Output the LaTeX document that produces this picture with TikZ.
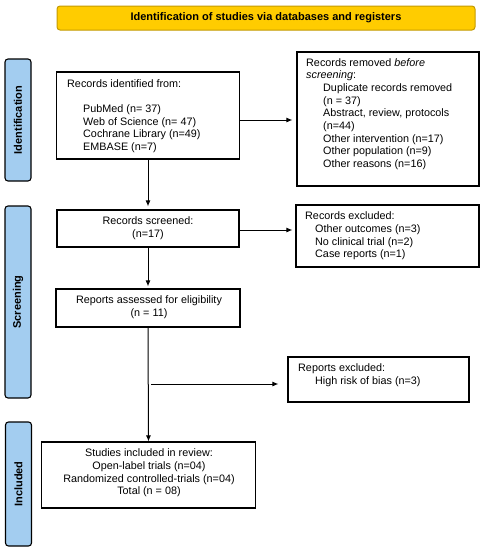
\documentclass[tikz,border=0pt]{standalone}
\usepackage{fontspec}
\setmainfont{Liberation Sans}
\usetikzlibrary{arrows.meta}
\definecolor{hdrfill}{HTML}{FFCC00}
\definecolor{hdrdraw}{HTML}{C49A00}
\definecolor{barfill}{HTML}{A3CDF0}
\tikzset{
  box/.style={draw, line width=1.1pt, inner sep=0pt},
  txt/.style={inner sep=0pt, font=\fontsize{10.8}{12.7}\selectfont},
  ltxt/.style={txt, align=left, anchor=west},
  ctxt/.style={txt, align=center},
  sidebar/.style={draw, line width=1.1pt, fill=barfill, rounded corners=3pt, rotate=90, inner sep=0pt,
    minimum height=26pt, font=\fontsize{11}{13}\selectfont\bfseries},
  arr/.style={-{Latex[length=6pt,width=5pt]}, line width=1pt}
}
\newcommand{\ind}[1]{\hspace*{#1}}
\begin{document}
\begin{tikzpicture}[x=1pt,y=-1pt]
\useasboundingbox (0,0) rectangle (482,550);
% header
\node[draw=hdrdraw, fill=hdrfill, line width=1pt, rounded corners=3pt, minimum width=418pt, minimum height=24pt,
  font=\fontsize{11}{13}\selectfont\bfseries] (hdr) at (266,18) {Identification of studies via databases and registers};
% side bars
\node[sidebar, minimum width=122pt] (sid) at (18,120) {Identification};
\node[sidebar, minimum width=192pt] (sscr) at (18,302) {Screening};
\node[sidebar, minimum width=124pt] (sinc) at (18.5,484) {Included};
% boxes
\node[box, minimum width=183pt, minimum height=87pt] (ident) at (148,115.5) {};
\node[ltxt] (identt) at (67,116)
  {Records identified from:\\[12.7pt]
   \ind{16pt}PubMed (n= 37)\\
   \ind{16pt}Web of Science (n= 47)\\
   \ind{16pt}Cochrane Library (n=49)\\
   \ind{16pt}EMBASE (n=7)};
\node[box, minimum width=182pt, minimum height=134pt] (removed) at (388,119) {};
\node[ltxt] (removedt) at (306,114)
  {Records removed \textit{before}\\
   \textit{screening}:\\
   \ind{17pt}Duplicate records removed\\
   \ind{17pt}(n = 37)\\
   \ind{17pt}Abstract, review, protocols\\
   \ind{17pt}(n=44)\\
   \ind{17pt}Other intervention (n=17)\\
   \ind{17pt}Other population (n=9)\\
   \ind{17pt}Other reasons (n=16)};
\node[box, minimum width=182pt, minimum height=37pt] (screened) at (148,228.5) {};
\node[ctxt] (screenedt) at (148,228.5) {Records screened:\\(n=17)};
\node[box, minimum width=183pt, minimum height=62pt] (excluded) at (387.5,236) {};
\node[ltxt] (excludedt) at (305,236)
  {Records excluded:\\
   \ind{10pt}Other outcomes (n=3)\\
   \ind{10pt}No clinical trial (n=2)\\
   \ind{10pt}Case reports (n=1)};
\node[box, minimum width=184pt, minimum height=38pt] (assessed) at (148,308) {};
\node[ctxt] (assessedt) at (149,307) {Reports assessed for eligibility\\(n = 11)};
\node[box, minimum width=181pt, minimum height=45pt] (repexc) at (378.5,379.5) {};
\node[ltxt] (repexct) at (298,375.5)
  {Reports excluded:\\
   \ind{17pt}High risk of bias (n=3)};
\node[box, minimum width=214pt, minimum height=66pt] (studies) at (148.5,475) {};
\node[ctxt] (studiest) at (149,473)
  {Studies included in review:\\
   Open-label trials (n=04)\\
   Randomized controlled-trials (n=04)\\
   Total (n = 08)};
% connectors
\draw[arr, shorten >=4pt] (ident.east |- 0,120) -- (removed.west |- 0,120);
\draw[arr, shorten >=3pt] (ident.south) -- (screened.north);
\draw[arr, shorten >=3pt] (screened.east |- 0,230) -- (excluded.west |- 0,230);
\draw[arr, shorten >=2pt] (screened.south) -- (assessed.north);
\draw[arr] (assessed.south) -- (studies.north);
\coordinate (br) at (assessed.south |- 0,384);
\draw[arr, shorten <=3pt, shorten >=9pt] (br) -- (br -| repexc.west);
\end{tikzpicture}
\end{document}
